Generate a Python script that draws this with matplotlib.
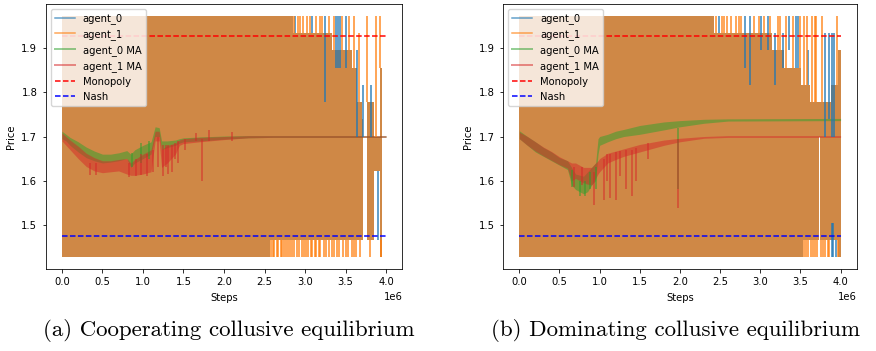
import matplotlib.pyplot as plt
import numpy as np
from matplotlib.lines import Line2D

S = 0.72  # the figure was a default-size plot shrunk into a two-panel page
plt.rcParams.update({
    "font.size": 10 * S,
    "axes.linewidth": 0.8 * S,
    "xtick.major.size": 3.5 * S,
    "ytick.major.size": 3.5 * S,
    "xtick.major.width": 0.8 * S,
    "ytick.major.width": 0.8 * S,
    "lines.linewidth": 1.5 * S,
})

# step values are in millions of steps
monopoly_price = 1.927
nash_price = 1.474
x_end = 4.0

# ---- (a) cooperating ----
a_raw_x = [0.00, 2.57, 2.85, 3.33, 3.58, 3.64, 3.70, 3.72, 3.77, 3.85, 3.92, 3.95]
a_raw_hi = [1.973, 1.973, 1.934, 1.895, 1.856, 1.778, 1.739, 1.700, 1.778, 1.700, 1.856, 1.856]
a_raw_lo = [1.427, 1.466, 1.466, 1.466, 1.466, 1.466, 1.466, 1.700, 1.466, 1.622, 1.427, 1.427]

a_spk0_x = [2.88, 3.09, 3.25, 3.38, 3.41, 3.43, 3.50, 3.64, 3.72, 3.82, 3.90]
a_spk0_lo = [1.934, 1.934, 1.778, 1.856, 1.856, 1.856, 1.856, 1.700, 1.700, 1.700, 1.466]
a_spk0_hi = [1.973, 1.973, 1.973, 1.973, 1.973, 1.973, 1.973, 1.895, 1.817, 1.817, 1.622]

a_spk1_top_x = [2.87, 2.91, 2.94, 2.98, 3.03, 3.06, 3.13, 3.18, 3.21, 3.29, 3.36, 3.46, 3.54, 3.60,
                3.66, 3.77, 3.87, 3.93]
a_spk1_top_lo = [1.934] * 10 + [1.895, 1.895, 1.895, 1.856, 1.778, 1.778, 1.700, 1.856]
a_spk1_top_hi = [1.973] * 14 + [1.934, 1.973, 1.973, 1.973]
a_spk1_bot_x = [2.58, 2.60, 2.62, 2.65, 2.67, 2.70, 2.72, 2.74, 2.77, 2.79, 2.82, 2.84, 2.87,
                2.90, 2.93, 2.96, 2.99, 3.01, 3.04, 3.07, 3.09, 3.12, 3.14, 3.17, 3.19, 3.23,
                3.26, 3.30, 3.33, 3.36, 3.40, 3.42, 3.47, 3.50, 3.53, 3.58, 3.61, 3.63, 3.68,
                3.80, 3.94]

a_ma_x = [0.00, 0.05, 0.10, 0.20, 0.30, 0.40, 0.50, 0.60, 0.70, 0.80, 0.85, 0.90, 1.00, 1.10,
          1.15, 1.20, 1.23, 1.30, 1.40, 1.45, 1.50, 1.70, 2.00, 2.30, 2.60, 4.00]
a_ma0_lo = [1.695, 1.690, 1.680, 1.665, 1.652, 1.645, 1.640, 1.642, 1.645, 1.650, 1.630, 1.640, 1.650,
            1.660, 1.700, 1.700, 1.670, 1.675, 1.680, 1.685, 1.688, 1.690, 1.694, 1.697, 1.698, 1.698]
a_ma0_hi = [1.712, 1.705, 1.698, 1.688, 1.676, 1.667, 1.660, 1.660, 1.663, 1.668, 1.660, 1.670, 1.680,
            1.688, 1.722, 1.720, 1.690, 1.690, 1.692, 1.695, 1.697, 1.699, 1.701, 1.702, 1.702, 1.702]
a_ma1_lo = [1.690, 1.680, 1.670, 1.650, 1.632, 1.622, 1.618, 1.620, 1.622, 1.615, 1.612, 1.612, 1.615,
            1.620, 1.690, 1.690, 1.630, 1.640, 1.660, 1.680, 1.684, 1.688, 1.693, 1.697, 1.698, 1.698]
a_ma1_hi = [1.708, 1.700, 1.692, 1.678, 1.662, 1.652, 1.645, 1.645, 1.648, 1.650, 1.640, 1.648, 1.660,
            1.670, 1.712, 1.712, 1.670, 1.680, 1.685, 1.692, 1.695, 1.698, 1.700, 1.702, 1.702, 1.702]
a_maspk0_x = [0.86, 0.97, 1.08]
a_maspk0_lo = [1.630, 1.640, 1.650]
a_maspk0_hi = [1.662, 1.685, 1.690]
a_maspk1_x = [0.35, 0.42, 0.83, 0.92, 0.98, 1.05, 1.12, 1.18, 1.25, 1.28, 1.31, 1.36, 1.40, 1.43,
              1.52, 1.73, 1.66, 1.81, 2.10]
a_maspk1_lo = [1.612, 1.612, 1.608, 1.610, 1.612, 1.610, 1.620, 1.630, 1.610, 1.630, 1.615, 1.620,
               1.650, 1.640, 1.670, 1.600, 1.690, 1.690, 1.690]
a_maspk1_hi = [1.640, 1.640, 1.640, 1.650, 1.660, 1.660, 1.670, 1.700, 1.680, 1.680, 1.680, 1.680,
               1.685, 1.690, 1.695, 1.695, 1.707, 1.715, 1.710]

# ---- (b) dominating ----
b_raw_x = [0.00, 2.43, 3.15, 3.30, 3.51, 3.53, 3.62, 3.73, 3.745, 3.88, 3.97, 4.00]
b_raw_hi = [1.973, 1.934, 1.895, 1.856, 1.817, 1.817, 1.778, 1.778, 1.778, 1.817, 1.895, 1.895]
b_raw_lo = [1.427, 1.427, 1.427, 1.427, 1.427, 1.466, 1.466, 1.700, 1.466, 1.466, 1.427, 1.427]

b_spk0_x = [2.48, 2.81, 2.87, 3.01, 3.10, 3.18, 3.28, 3.36, 3.44, 3.47, 3.59, 3.80, 3.85, 3.89,
            3.92, 3.89, 3.91, 3.94]
b_spk0_lo = [1.934, 1.856, 1.817, 1.895, 1.895, 1.817, 1.856, 1.895, 1.856, 1.856, 1.817, 1.700,
             1.739, 1.700, 1.700, 1.427, 1.427, 1.427]
b_spk0_hi = [1.973, 1.973, 1.973, 1.973, 1.973, 1.934, 1.934, 1.973, 1.973, 1.973, 1.895, 1.934,
             1.934, 1.934, 1.934, 1.505, 1.505, 1.466]

b_spk1_top_x = [2.45, 2.52, 2.55, 2.58, 2.64, 2.70, 2.73, 2.76, 2.92, 2.99, 3.05, 3.12, 3.22, 3.25,
                3.32, 3.41, 3.50, 3.55, 3.58, 3.64, 3.68, 3.70, 3.77, 3.95]
b_spk1_top_lo = [1.934] * 12 + [1.895, 1.895, 1.856, 1.856, 1.856, 1.817, 1.817, 1.778, 1.778,
                                1.778, 1.778, 1.817]
b_spk1_top_hi = [1.973] * 24
b_spk1_bot_x = [3.55, 3.57, 3.60, 3.63, 3.66, 3.68, 3.71, 3.76, 3.78, 3.80, 3.84, 3.86, 3.97]

b_ma_x = [0.00, 0.10, 0.20, 0.30, 0.40, 0.50, 0.60, 0.65, 0.70, 0.80, 0.85, 0.90, 0.95, 0.98,
          1.00, 1.10, 1.20, 1.30, 1.50, 1.80, 2.00, 2.30, 2.60, 4.00]
b_ma0_lo = [1.695, 1.680, 1.665, 1.655, 1.645, 1.635, 1.625, 1.590, 1.580, 1.570, 1.575, 1.590, 1.600,
            1.660, 1.680, 1.688, 1.695, 1.700, 1.705, 1.715, 1.722, 1.730, 1.735, 1.736]
b_ma0_hi = [1.713, 1.700, 1.688, 1.675, 1.665, 1.652, 1.645, 1.630, 1.615, 1.610, 1.620, 1.630, 1.640,
            1.695, 1.700, 1.705, 1.712, 1.716, 1.725, 1.733, 1.736, 1.739, 1.740, 1.741]
b_ma1_lo = [1.695, 1.680, 1.667, 1.656, 1.646, 1.636, 1.628, 1.600, 1.605, 1.595, 1.592, 1.590, 1.605,
            1.615, 1.620, 1.640, 1.648, 1.655, 1.665, 1.680, 1.688, 1.696, 1.698, 1.698]
b_ma1_hi = [1.710, 1.700, 1.688, 1.676, 1.666, 1.654, 1.645, 1.640, 1.640, 1.630, 1.630, 1.630, 1.640,
            1.645, 1.650, 1.662, 1.667, 1.672, 1.682, 1.692, 1.696, 1.700, 1.702, 1.702]
b_maspk0_x = [0.66, 0.75, 0.82, 0.88, 0.95, 1.97]
b_maspk0_lo = [1.585, 1.565, 1.565, 1.580, 1.580, 1.580]
b_maspk0_hi = [1.625, 1.600, 1.600, 1.620, 1.630, 1.720]
b_maspk1_x = [0.68, 0.78, 0.93, 1.05, 1.09, 1.13, 1.20, 1.25, 1.33, 1.40, 1.45, 1.60, 1.97]
b_maspk1_lo = [1.585, 1.590, 1.545, 1.555, 1.600, 1.560, 1.555, 1.610, 1.580, 1.565, 1.600, 1.650,
               1.537]
b_maspk1_hi = [1.630, 1.630, 1.620, 1.650, 1.660, 1.660, 1.665, 1.668, 1.670, 1.670, 1.675, 1.685,
               1.695]

captions = ["(a) Cooperating collusive equilibrium", "(b) Dominating collusive equilibrium"]

M = 1e6


def panel(ax, raw_x, raw_lo, raw_hi, spk0, spk1_top, spk1_bot, ma_x, ma0, ma1, maspk0, maspk1):
    rx = np.array(raw_x) * M
    # raw prices of both agents: jump between price levels every step
    ax.fill_between(rx, raw_lo, raw_hi, step="post", color="tab:blue", alpha=0.7, lw=0)
    ax.fill_between(rx, raw_lo, raw_hi, step="post", color="tab:orange", alpha=0.7, lw=0)
    ax.vlines(np.array(spk0[0]) * M, spk0[1], spk0[2], color="tab:blue", alpha=0.7, lw=1.4)
    ax.vlines(np.array(spk1_top[0]) * M, spk1_top[1], spk1_top[2],
              color="tab:orange", alpha=0.7, lw=1.4)
    ax.vlines(np.array(spk1_bot) * M, 1.427, 1.466, color="tab:orange", alpha=0.7, lw=1.4)

    mx = np.array(ma_x) * M
    ax.fill_between(mx, ma0[0], ma0[1], color="tab:green", alpha=0.5, lw=0)
    ax.vlines(np.array(maspk0[0]) * M, maspk0[1], maspk0[2], color="tab:green", alpha=0.5, lw=1.4)
    ax.fill_between(mx, ma1[0], ma1[1], color="tab:red", alpha=0.5, lw=0)
    ax.vlines(np.array(maspk1[0]) * M, maspk1[1], maspk1[2], color="tab:red", alpha=0.5, lw=1.4)

    ax.plot([0, x_end * M], [monopoly_price] * 2, "r--")
    ax.plot([0, x_end * M], [nash_price] * 2, "b--")

    handles = [
        Line2D([], [], color="tab:blue", alpha=0.7),
        Line2D([], [], color="tab:orange", alpha=0.7),
        Line2D([], [], color="tab:green", alpha=0.5, lw=2 * S),
        Line2D([], [], color="tab:red", alpha=0.5, lw=2 * S),
        Line2D([], [], color="r", ls="--"),
        Line2D([], [], color="b", ls="--"),
    ]
    ax.legend(handles, ["agent_0", "agent_1", "agent_0 MA", "agent_1 MA", "Monopoly", "Nash"],
              loc="upper left")
    ax.set_xlabel("Steps")
    ax.set_ylabel("Price")
    ax.set_yticks([1.5, 1.6, 1.7, 1.8, 1.9])


fig = plt.figure(figsize=(8.76, 3.51), dpi=100)
ax_a = fig.add_axes([0.0522, 0.2336, 0.4070, 0.7550])
ax_b = fig.add_axes([0.5745, 0.2336, 0.4034, 0.7550])

panel(ax_a, a_raw_x, a_raw_lo, a_raw_hi,
      (a_spk0_x, a_spk0_lo, a_spk0_hi), (a_spk1_top_x, a_spk1_top_lo, a_spk1_top_hi), a_spk1_bot_x,
      a_ma_x, (a_ma0_lo, a_ma0_hi), (a_ma1_lo, a_ma1_hi),
      (a_maspk0_x, a_maspk0_lo, a_maspk0_hi), (a_maspk1_x, a_maspk1_lo, a_maspk1_hi))
panel(ax_b, b_raw_x, b_raw_lo, b_raw_hi,
      (b_spk0_x, b_spk0_lo, b_spk0_hi), (b_spk1_top_x, b_spk1_top_lo, b_spk1_top_hi), b_spk1_bot_x,
      b_ma_x, (b_ma0_lo, b_ma0_hi), (b_ma1_lo, b_ma1_hi),
      (b_maspk0_x, b_maspk0_lo, b_maspk0_hi), (b_maspk1_x, b_maspk1_lo, b_maspk1_hi))

fig.text(0.261, 0.058, captions[0], ha="center", va="center", family="cmr10", fontsize=16.5)
fig.text(0.771, 0.058, captions[1], ha="center", va="center", family="cmr10", fontsize=16.5)

fig.savefig("out.png", dpi=100)
